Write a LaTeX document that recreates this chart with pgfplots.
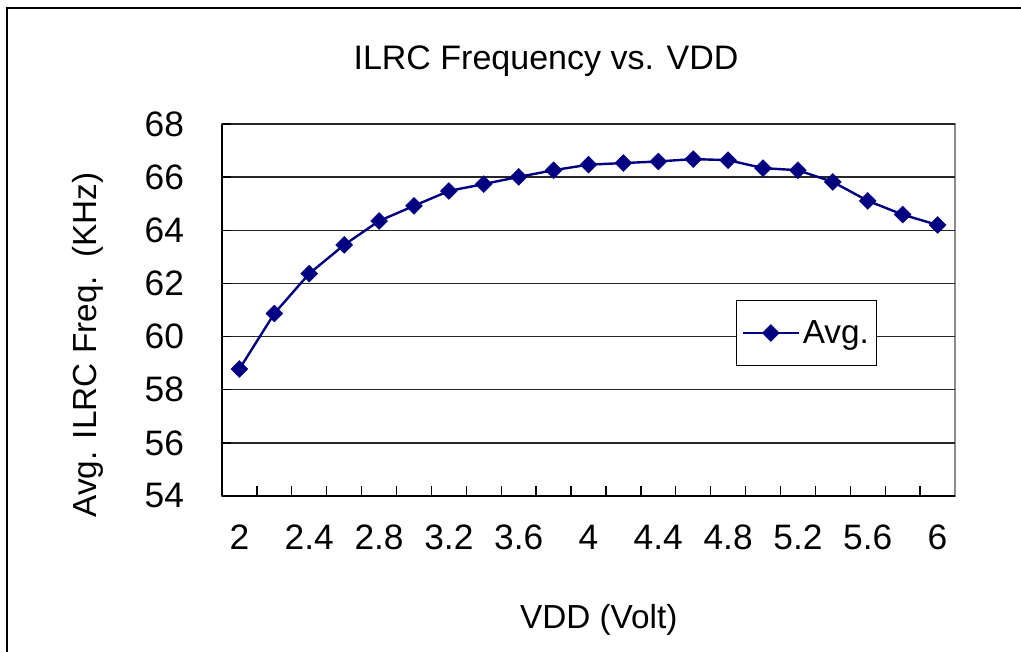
\documentclass[border=0pt]{standalone}
\usepackage{pgfplots}
\pgfplotsset{compat=1.18}
\usepackage{fontspec}
\setmainfont{Liberation Sans}
\definecolor{navyline}{RGB}{0,0,128}
\pgfplotstableread{
v f
2.0 58.78
2.2 60.87
2.4 62.37
2.6 63.45
2.8 64.35
3.0 64.92
3.2 65.48
3.4 65.74
3.6 66.01
3.8 66.26
4.0 66.47
4.2 66.53
4.4 66.59
4.6 66.68
4.8 66.64
5.0 66.34
5.2 66.26
5.4 65.82
5.6 65.11
5.8 64.59
6.0 64.20
}\datatable
\begin{document}
\begin{tikzpicture}[x=0.75pt,y=0.75pt]
\path[use as bounding box] (0,0) rectangle (1021,651);
\draw[black, line width=2.2pt] (7,-2) -- (7,643) -- (1030,643);
\node[font=\fontsize{25.5}{30}\selectfont, anchor=center] at (546,590) {ILRC Frequency vs. VDD};
\begin{axis}[
  at={(166.5pt,116.25pt)}, anchor=south west,
  scale only axis,
  width=549.75pt, height=279pt,
  xmin=1.9, xmax=6.1,
  ymin=54, ymax=68,
  ytick={54,56,...,68},
  xtick={2,2.4,2.8,3.2,3.6,4,4.4,4.8,5.2,5.6,6},
  xticklabels={2,2.4,2.8,3.2,3.6,4,4.4,4.8,5.2,5.6,6},
  minor xtick={2.1,2.3,2.5,2.7,2.9,3.1,3.3,3.5,3.7,3.9,4.1,4.3,4.5,4.7,4.9,5.1,5.3,5.5,5.7,5.9},
  /pgf/number format/assume math mode=true,
  major x tick style={draw=none},
  minor x tick style={black, line width=1pt},
  minor tick length=7.5pt,
  major tick length=7pt,
  y tick style={black, line width=1pt},
  tick align=inside,
  xtick pos=bottom, ytick pos=left,
  ymajorgrids,
  major grid style={black!85, line width=1.1pt},
  axis x line*=bottom, axis y line*=left,
  axis line style={-, black, line width=1.6pt},
  axis background/.style={draw=black!45, line width=1.6pt},
  tick label style={font=\fontsize{26.5}{30}\selectfont},
  xticklabel style={yshift=-18pt},
  yticklabel style={xshift=-25pt},
  xlabel={VDD (Volt)},
  ylabel={Avg. ILRC Freq.\ \ (KHz)},
  label style={font=\fontsize{25}{30}\selectfont},
  xlabel style={at={(axis description cs:0.514,-0.333)}, anchor=center},
  ylabel style={at={(axis description cs:-0.183,0.406)}, anchor=center, rotate=0},
  legend style={at={(axis description cs:0.701,0.527)}, anchor=north west,
    draw=black, line width=0.8pt, fill=white,
    font=\fontsize{25}{30}\selectfont,
    inner xsep=4pt, inner ysep=13pt},
  legend image code/.code={\draw[#1, mark repeat=2, mark phase=2] plot coordinates {(0pt,0pt) (21pt,0pt) (42pt,0pt)};},
  clip=false,
]
\addplot[navyline, line width=1.8pt, mark=square*, mark size=4.5pt,
  mark options={rotate=45, solid, fill=navyline, draw=navyline, line width=0.3pt}]
  table[x=v, y=f] {\datatable};
\addlegendentry{Avg.}
\end{axis}
\end{tikzpicture}
\end{document}
